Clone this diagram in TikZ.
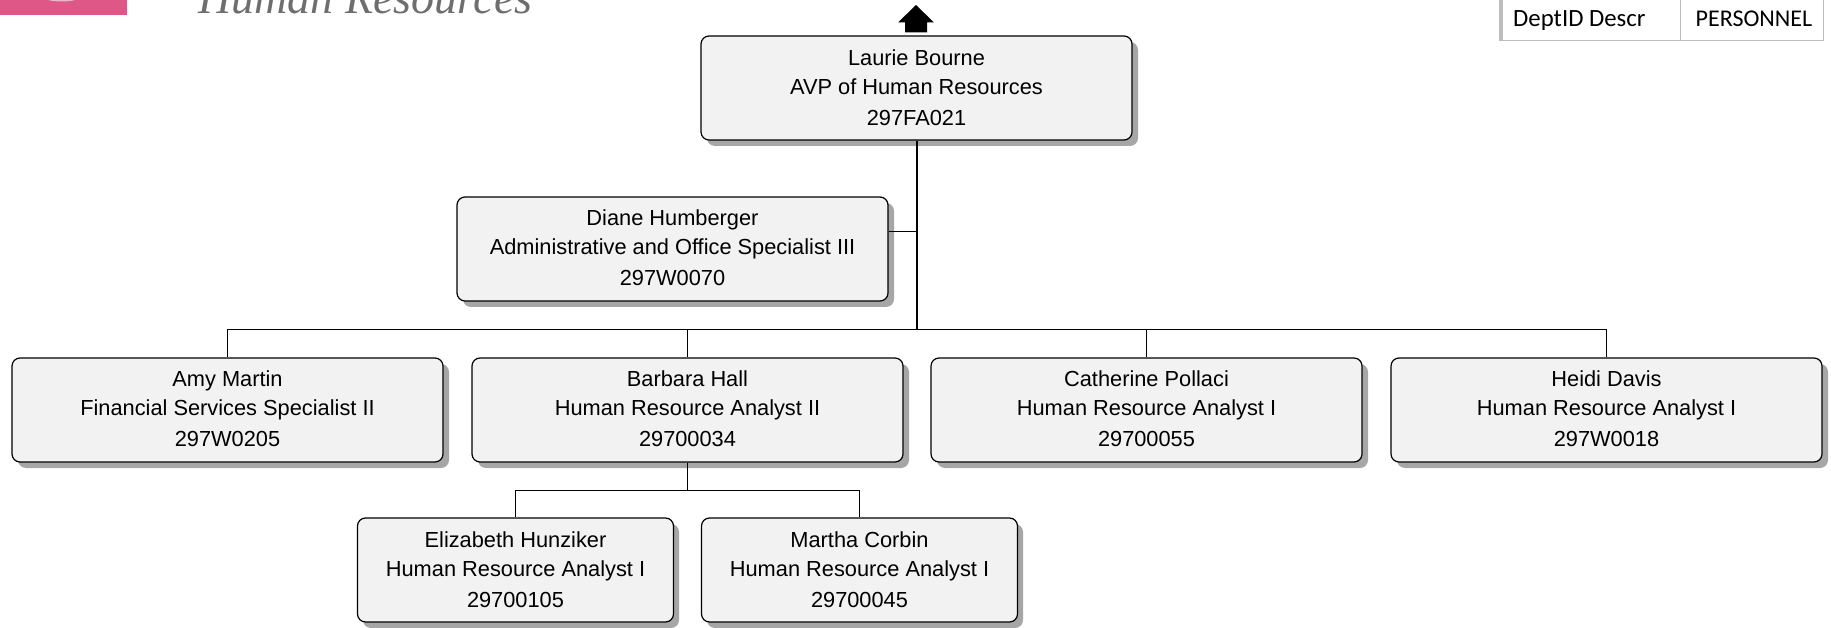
\documentclass[tikz,border=0pt]{standalone}
\usepackage{fontspec}
\setmainfont{Liberation Sans}
\newfontfamily\tablefont{Carlito}
\newfontfamily\logofont{Liberation Serif}
\usetikzlibrary{calc}
\definecolor{boxfill}{HTML}{F2F2F2}
\definecolor{shadowgray}{HTML}{A6A6A6}
\definecolor{logopink}{HTML}{DE5787}
\definecolor{logotext}{HTML}{6E6E6E}
\definecolor{tablegray}{HTML}{BDBDBD}
\tikzset{
  x=1pt,y=-1pt,
  person/.style={draw=black,line width=1.2pt,fill=boxfill,rounded corners=8pt,minimum height=104pt,
    inner sep=0pt,align=center,font=\fontsize{21.8}{29.5}\selectfont,text depth=0pt},
  wide/.style={person,minimum width=431pt},
  narrow/.style={person,minimum width=316pt},
  conn/.style={draw=black,line width=1.2pt},
  trunkline/.style={draw=black,line width=1.5pt},
}
\newcommand{\persontext}[4][0pt]{\raisebox{\dimexpr1.2pt+#1\relax}{#2}\\\raisebox{\dimexpr2pt+#1\relax}{#3}\\\raisebox{\dimexpr0.3pt+#1\relax}{#4}}
\begin{document}
\begin{tikzpicture}
\useasboundingbox (0,0) rectangle (1831,628);
\clip (0,0) rectangle (1831,628);
% logo fragments
\fill[logopink] (0,0) rectangle (127,15);
\fill[white!55!logopink] (48,0) .. controls (55,2) and (68,2) .. (75,0) -- cycle;
\node[anchor=base west,inner sep=0pt,font=\logofont\itshape\fontsize{46}{46}\selectfont,text=logotext] (logo) at (198,13.5) {Human Resources};
% department table
\draw[tablegray,line width=1pt] (1500,-2) -- (1500,40.5) -- (1823.5,40.5) -- (1823.5,-2);
\draw[tablegray,line width=1pt] (1680,-2) -- (1680,40.5);
\fill[tablegray] (1499,-2) rectangle (1502.5,41);
\node[anchor=base west,inner sep=0pt,font=\tablefont\fontsize{24.8}{24.8}\selectfont] (deptlabel) at (1513,27) {DeptID Descr};
\node[anchor=base west,inner sep=0pt,font=\tablefont\fontsize{24}{24}\selectfont] (deptvalue) at (1695.5,27) {PERSONNEL};
% up arrow
\fill[black] (916,5) -- (934,22.5) -- (927,22.5) -- (927,32.5) -- (905,32.5) -- (905,22.5) -- (898,22.5) -- cycle;
% shadows
\foreach \xa/\ya/\w in {701/36/431,457/197/431,12/358/431,472/358/431,931/358/431,1391/358/431,357/518/316,701/518/316}
  \fill[shadowgray,rounded corners=8pt] (\xa+6,\ya+6) rectangle (\xa+\w+6,\ya+104+6);
% nodes
\node[wide] (laurie) at (916.5,88) {\persontext{Laurie Bourne}{AVP of Human Resources}{297FA021}};
\node[wide] (diane) at (672.5,249) {\persontext[1.6pt]{Diane Humberger}{Administrative and Office Specialist III}{297W0070}};
\node[wide] (amy) at (227.5,410) {\persontext[2pt]{Amy Martin}{Financial Services Specialist II}{297W0205}};
\node[wide] (barbara) at (687.5,410) {\persontext[2pt]{Barbara Hall}{Human Resource Analyst II}{29700034}};
\node[wide] (catherine) at (1146.5,410) {\persontext[2pt]{Catherine Pollaci}{Human Resource Analyst I}{29700055}};
\node[wide] (heidi) at (1606.5,410) {\persontext[2pt]{Heidi Davis}{Human Resource Analyst I}{297W0018}};
\node[narrow] (elizabeth) at (515.5,570) {\persontext{Elizabeth Hunziker}{Human Resource Analyst I}{29700105}};
\node[narrow] (martha) at (859.5,570) {\persontext{Martha Corbin}{Human Resource Analyst I}{29700045}};
% connectors
\coordinate (trunk) at (917,329.5);
\coordinate (dianejoin) at (917,231.5);
\coordinate (subjoin) at (687.5,490.5);
\draw[trunkline] ([xshift=0.5pt]laurie.south) -- (trunk);
\draw[conn] (diane.east |- dianejoin) -- (dianejoin);
\draw[conn] (amy.north) |- (trunk);
\draw[conn] (heidi.north) |- (trunk);
\draw[conn] (barbara.north) -- (barbara.north |- trunk);
\draw[conn] (catherine.north) -- (catherine.north |- trunk);
\draw[conn] (barbara.south) -- (barbara.south |- subjoin);
\draw[conn] (elizabeth.north) |- (subjoin);
\draw[conn] (martha.north) |- (subjoin);
\end{tikzpicture}
\end{document}
